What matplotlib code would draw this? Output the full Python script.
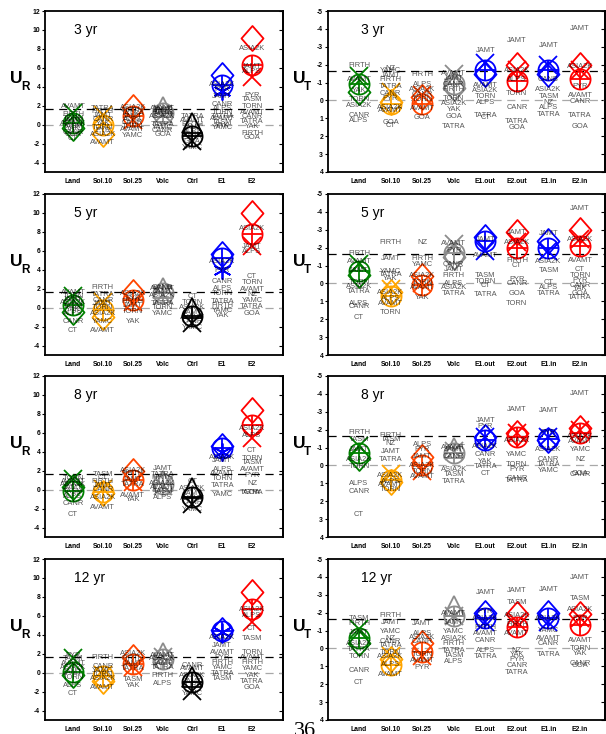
import numpy as np
import matplotlib
matplotlib.use('Agg')
import matplotlib.pyplot as plt
from matplotlib.path import Path

plt.rcParams['font.family'] = ['Liberation Sans', 'DejaVu Sans']

nan = np.nan

# ---------------- categories ----------------
periods = ['3 yr', '5 yr', '8 yr', '12 yr']
ur_cats = ['Land', 'Sol.10', 'Sol.25', 'Volc', 'Ctrl', 'E1', 'E2']
ut_cats = ['Land', 'Sol.10', 'Sol.25', 'Volc', 'E1.out', 'E2.out', 'E1.in', 'E2.in']
ur_colors = ['green', '#FFA500', '#FF4500', '#8c8c8c', 'black', '#0000FF', '#FF0000']
ut_colors = ['green', '#FFA500', '#FF4500', '#8c8c8c', '#0000FF', '#FF0000', '#0000FF', '#FF0000']

# ---------------- U_R marker values (rows = periods) ----------------
ur_diamond = [[-0.4, -1.0, 1.9, nan, nan, 5.2, 9.1],
              [-0.5, -1.0, 1.6, nan, nan, 5.7, 10.0],
              [0.3, -0.4, 2.0, nan, nan, 4.6, 8.4],
              [-0.2, -0.9, 1.6, nan, nan, 4.5, 8.5]]
ur_circle = [[0.2, 0.0, 0.9, 1.2, -1.2, 4.2, 6.3],
             [0.3, -0.2, 0.8, 1.5, -0.9, 5.2, 7.8],
             [-0.15, -0.3, 1.0, 0.6, -0.8, 4.4, 6.8],
             [0.1, -0.4, 0.9, 1.4, -1.0, 4.4, 6.7]]
ur_cross = [[1.2, 1.0, 0.5, 1.1, -1.7, 3.5, 5.0],
            [1.2, 0.6, 0.6, 1.3, -1.6, 4.0, 6.5],
            [1.1, 0.1, 0.8, 0.4, -1.5, 4.0, 5.5],
            [1.5, -0.2, 0.6, 1.6, -1.9, 4.3, 5.3]]
ur_triangle = [[nan, nan, nan, 1.9, 0.2, nan, nan],
               [nan, nan, nan, 2.1, 0.0, nan, nan],
               [nan, nan, nan, 0.9, 0.2, nan, nan],
               [nan, nan, nan, 2.1, -0.5, nan, nan]]

# ---------------- U_T marker values ----------------
ut_diamond = [[-0.5, 0.1, -0.2, -0.7, -1.5, -2.0, -1.5, -2.0],
              [-0.5, 0.5, -0.4, -1.5, -2.6, -2.9, -2.35, -3.0],
              [-0.4, 0.9, -0.5, nan, -1.6, -1.8, -1.4, -2.1],
              [-0.3, 0.6, -0.3, nan, -2.0, -1.9, -2.0, -1.9]]
ut_circle = [[-0.9, 0.2, 0.2, -0.9, -1.7, -1.1, -1.7, -1.2],
             [-0.7, 0.7, 0.1, -1.7, -2.4, -2.0, -2.0, -2.1],
             [-0.7, 0.8, 0.0, -0.7, -1.4, -1.6, -1.5, -1.8],
             [-0.6, 0.9, 0.2, -1.8, -1.7, -1.2, -1.7, -1.3]]
ut_cross = [[-1.35, -0.5, -0.3, -1.5, -2.1, -1.7, -2.0, -1.7],
            [-1.1, 0.3, 0.0, -2.2, -1.8, -2.3, -1.8, -2.5],
            [-1.1, 0.5, 0.3, -0.8, -1.6, -1.8, -1.6, -2.0],
            [-1.1, 0.4, 0.4, -1.8, -1.5, -1.5, -1.5, -1.7]]
ut_triangle = [[nan, nan, nan, nan, nan, nan, nan, nan],
               [nan, nan, nan, nan, nan, nan, nan, nan],
               [nan, nan, nan, -1.0, nan, nan, nan, nan],
               [nan, nan, nan, -2.35, nan, nan, nan, nan]]

# ---------------- site labels (per category: (site, value)) ----------------
ur3_labels = [
    [('AVAMT', 1.9), ('FIRTH', 1.05), ('TORN', 0.7), ('JAMT', 0.45), ('ASIA2K', 0.15), ('TASM', -0.15), ('YAK', -0.45), ('CANR', -0.8), ('GOA', -1.05), ('CT', -1.5)],
    [('TATRA', 1.75), ('FIRTH', 1.35), ('JAMT', 0.95), ('CANR', 0.55), ('YAK', 0.15), ('TORN', -0.25), ('PYR', -0.6), ('ASIA2K', -1.05), ('AVAMT', -1.85)],
    [('ASIA2K', 1.85), ('FIRTH', 1.5), ('TATRA', 1.15), ('JAMT', 0.85), ('ALPS', 0.5), ('CANR', 0.2), ('TORN', -0.15), ('AVAMT', -0.55), ('YAMC', -1.1)],
    [('AVAMT', 1.75), ('JAMT', 1.65), ('PYR', 1.5), ('FIRTH', 1.3), ('TASM', 1.1), ('ASIA2K', 0.9), ('TATRA', 0.0), ('YAMC', -0.3), ('CANR', -0.6), ('GOA', -1.05)],
    [('TATRA', 0.9), ('AVAMT', 0.4), ('FIRTH', 0.05), ('JAMT', -0.3), ('ALPS', -0.7), ('TORN', -1.0), ('CANR', -1.4), ('GOA', -1.8), ('YAMC', -2.4)],
    [('ASIA2K', 4.2), ('PYR', 3.7), ('JAMT', 3.0), ('CANR', 2.1), ('ALPS', 1.75), ('TORN', 1.3), ('TATRA', 0.9), ('AVAMT', 0.6), ('TASM', 0.2), ('YAK', -0.05), ('YAMC', -0.3)],
    [('ASIA2K', 8.0), ('JAMT', 6.15), ('ALPS', 5.6), ('PYR', 3.1), ('TASM', 2.65), ('TORN', 1.9), ('AVAMT', 1.3), ('CANR', 0.9), ('TATRA', 0.35), ('YAK', -0.2), ('FIRTH', -0.95), ('GOA', -1.4)],
]
ur5_labels = [
    [('AVAMT', 1.6), ('TORN', 1.2), ('JAMT', 0.9), ('ASIA2K', 0.5), ('TASM', 0.15), ('YAK', -0.2), ('ALPS', -0.6), ('CANR', -1.5), ('CT', -2.4)],
    [('FIRTH', 2.15), ('TATRA', 1.35), ('CANR', 0.75), ('JAMT', 0.4), ('TORN', 0.0), ('ASIA2K', -0.65), ('YAMC', -1.45), ('AVAMT', -2.45)],
    [('ASIA2K', 1.45), ('PYR', 1.0), ('FIRTH', 0.6), ('JAMT', 0.2), ('TORN', -0.4), ('YAK', -1.45)],
    [('CANR', 2.15), ('AVAMT', 2.05), ('JAMT', 1.7), ('ASIA2K', 1.3), ('TATRA', 0.4), ('TORN', 0.0), ('YAMC', -0.6)],
    [('CT', 1.2), ('TORN', 0.55), ('ASIA2K', 0.0), ('JAMT', -0.5), ('AVAMT', -1.0), ('CANR', -1.5), ('YAMC', -2.1)],
    [('ASIA2K', 4.9), ('PYR', 3.9), ('CANR', 2.75), ('ALPS', 2.0), ('TORN', 1.45), ('TATRA', 0.7), ('FIRTH', 0.2), ('YAMC', -0.3), ('YAK', -0.85)],
    [('ASIA2K', 8.35), ('JAMT', 6.5), ('ALPS', 5.9), ('CT', 3.3), ('TORN', 2.7), ('AVAMT', 1.9), ('NZ', 1.4), ('YAMC', 0.75), ('TATRA', 0.1), ('GOA', -0.65)],
]
ur8_labels = [
    [('TORN', 1.2), ('AVAMT', 0.9), ('ASIA2K', 0.5), ('JAMT', 0.2), ('TASM', -0.2), ('ALPS', -0.7), ('CANR', -1.5), ('CT', -2.6)],
    [('TASM', 1.6), ('CT', 1.3), ('FIRTH', 0.9), ('JAMT', 0.4), ('CANR', 0.0), ('ASIA2K', -0.8), ('AVAMT', -1.85)],
    [('ASIA2K', 2.05), ('FIRTH', 1.7), ('JAMT', 1.1), ('TATRA', 0.5), ('AVAMT', -0.6), ('YAK', -1.05)],
    [('JAMT', 2.2), ('TATRA', 1.6), ('FIRTH', 1.3), ('ASIA2K', 0.65), ('AVAMT', 0.2), ('TASM', -0.15), ('ALPS', -0.8)],
    [('CT', 0.9), ('ASIA2K', 0.1), ('JAMT', -0.4), ('AVAMT', -0.9), ('CANR', -1.4), ('YAMC', -2.1)],
    [('ASIA2K', 3.35), ('JAMT', 3.1), ('ALPS', 2.15), ('AVAMT', 1.7), ('TORN', 1.2), ('TATRA', 0.45), ('YAMC', -0.55)],
    [('ASIA2K', 6.45), ('ALPS', 5.7), ('CT', 4.15), ('TORN', 3.3), ('TASM', 2.85), ('AVAMT', 2.1), ('PYR', 1.5), ('NZ', 0.65), ('TATRA', -0.35), ('GOA', -0.35)],
]
ur12_labels = [
    [('PYR', 1.8), ('TASM', 1.45), ('AVAMT', 1.0), ('ASIA2K', 0.5), ('JAMT', 0.0), ('TORN', -0.5), ('ALPS', -1.4), ('CT', -2.2)],
    [('FIRTH', 1.56), ('CANR', 0.64), ('YAMC', 0.2), ('TORN', -0.2), ('ASIA2K', -0.67), ('AVAMT', -1.56)],
    [('ASIA2K', 2.0), ('FIRTH', 1.5), ('JAMT', 1.0), ('TATRA', 0.4), ('TASM', -0.75), ('YAK', -1.4)],
    [('AVAMT', 1.8), ('ASIA2K', 1.45), ('JAMT', 1.0), ('TATRA', 0.57), ('FIRTH', -0.32), ('ALPS', -1.13)],
    [('CANR', 0.75), ('AVAMT', 0.4), ('ASIA2K', -0.32), ('JAMT', -0.9), ('TORN', -1.4), ('YAMC', -2.2)],
    [('ASIA2K', 3.7), ('JAMT', 2.87), ('AVAMT', 2.16), ('PYR', 1.63), ('FIRTH', 1.1), ('YAMC', 0.5), ('TATRA', -0.14), ('TASM', -0.67)],
    [('ASIA2K', 6.67), ('ALPS', 6.06), ('CT', 4.65), ('TASM', 3.58), ('TORN', 2.16), ('AVAMT', 1.63), ('FIRTH', 1.1), ('YAMC', 0.39), ('YAK', -0.32), ('TATRA', -0.92), ('GOA', -1.56)],
]

ut3_labels = [
    [('FIRTH', -1.93), ('AVAMT', -1.15), ('YAK', -0.56), ('TORN', -0.04), ('ASIA2K', 0.3), ('CANR', 0.85), ('ALPS', 1.1)],
    [('NZ', -1.8), ('YAMC', -1.7), ('JAMT', -1.4), ('FIRTH', -1.15), ('TATRA', -0.78), ('CANR', -0.4), ('PYR', -0.13), ('ASIA2K', 0.4), ('AVAMT', 0.55), ('GOA', 1.25), ('CT', 1.4)],
    [('FIRTH', -1.43), ('ALPS', -0.87), ('ASIA2K', -0.6), ('CANR', -0.32), ('TORN', -0.05), ('AVAMT', 0.43), ('GOA', 0.98)],
    [('AVAMT', -1.5), ('JAMT', -1.25), ('CANR', -0.9), ('FIRTH', -0.6), ('TORN', -0.13), ('ASIA2K', 0.19), ('YAK', 0.52), ('GOA', 0.9), ('TATRA', 1.45)],
    [('JAMT', -2.79), ('AVAMT', -0.82), ('ASIA2K', -0.56), ('TORN', -0.22), ('ALPS', 0.11), ('TATRA', 0.85), ('CT', 0.98)],
    [('JAMT', -3.33), ('ASIA2K', -1.67), ('ALPS', -1.15), ('TORN', -0.4), ('CANR', 0.37), ('TATRA', 1.17), ('GOA', 1.5)],
    [('JAMT', -3.07), ('CANB', -1.15), ('ASIA2K', -0.6), ('TASM', -0.22), ('NZ', 0.1), ('ALPS', 0.39), ('TATRA', 0.76)],
    [('JAMT', -4.0), ('ASIA2K', -1.9), ('PYR', -0.78), ('AVAMT', -0.26), ('CANR', 0.06), ('TATRA', 0.85), ('GOA', 1.45)],
]
ut5_labels = [
    [('FIRTH', -1.67), ('AVAMT', -1.2), ('JAMT', -0.73), ('TORN', -0.08), ('ASIA2K', 0.17), ('TATRA', 0.43), ('ALPS', 1.14), ('CANR', 1.3), ('CT', 1.9)],
    [('FIRTH', -2.27), ('JAMT', -1.39), ('YAMC', -0.64), ('TATRA', -0.49), ('YAK', -0.26), ('ASIA2K', 0.49), ('ALPS', 0.86), ('AVAMT', 1.14), ('TORN', 1.61)],
    [('NZ', -2.29), ('FIRTH', -1.39), ('YAMC', -1.07), ('ASIA2K', -0.45), ('TORN', -0.08), ('AVAMT', 0.2), ('YAK', 0.8)],
    [('AVAMT', -2.23), ('PYR', -1.86), ('CANR', -1.07), ('JAMT', -0.77), ('FIRTH', -0.45), ('ALPS', 0.0), ('ASIA2K', 0.24), ('TATRA', 0.58)],
    [('JAMT', -2.46), ('AVAMT', -1.58), ('TASM', -0.45), ('TORN', -0.13), ('CT', 0.11), ('TATRA', 0.62)],
    [('JAMT', -2.83), ('ASIA2K', -2.27), ('FIRTH', -1.26), ('CT', -1.01), ('PYR', -0.21), ('CANR', 0.02), ('GOA', 0.58), ('TORN', 1.14)],
    [('JAMT', -2.8), ('ASIA2K', -1.2), ('TASM', -0.73), ('CT', -0.08), ('ALPS', 0.2), ('TATRA', 0.54)],
    [('JAMT', -4.17), ('ASIA2K', -2.46), ('AVAMT', -1.26), ('CT', -0.77), ('TORN', -0.45), ('PYR', -0.17), ('CANR', 0.11), ('YAK', 0.26), ('GOA', 0.58), ('TATRA', 0.81)],
]
ut8_labels = [
    [('FIRTH', -1.85), ('TASM', -1.44), ('JAMT', -0.9), ('ASIA2K', -0.35), ('TORN', 0.06), ('ALPS', 1.03), ('CANR', 1.45), ('CT', 2.76)],
    [('FIRTH', -1.66), ('TASM', -1.44), ('NZ', -1.25), ('JAMT', -0.78), ('TATRA', -0.35), ('ASIA2K', 0.58), ('ALPS', 0.9), ('AVAMT', 1.08), ('TORN', 1.36)],
    [('ALPS', -1.16), ('PYR', -0.91), ('JAMT', -0.5), ('ASIA2K', 0.0), ('TORN', 0.35), ('AVAMT', 0.6)],
    [('AVAMT', -1.0), ('JAMT', -0.88), ('CANR', -0.5), ('ASIA2K', 0.24), ('TASM', 0.52), ('TATRA', 0.9)],
    [('JAMT', -2.52), ('PYR', -2.15), ('ASIA2K', -1.06), ('CANR', -0.6), ('YAK', -0.22), ('TATRA', 0.06), ('CT', 0.47)],
    [('JAMT', -3.12), ('ASIA2K', -1.38), ('YAMC', -0.6), ('TORN', -0.04), ('PYR', 0.24), ('CANR', 0.71), ('TATRA', 0.86)],
    [('JAMT', -3.08), ('PYR', -1.85), ('ASIA2K', -0.88), ('CANR', -0.35), ('TATRA', -0.04), ('YAMC', 0.3)],
    [('JAMT', -4.0), ('ASIA2K', -1.62), ('AVAMT', -1.34), ('YAMC', -0.91), ('NZ', -0.35), ('GOA', 0.47), ('CANR', 0.52)],
]
ut12_labels = [
    [('TASM', -1.66), ('FIRTH', -1.38), ('JAMT', -0.9), ('ASIA2K', -0.25), ('TATRA', 0.04), ('TORN', 0.47), ('CANR', 1.23), ('CT', 1.89)],
    [('FIRTH', -1.85), ('JAMT', -1.47), ('YAMC', -0.94), ('NZ', -0.58), ('CANR', -0.38), ('TATRA', -0.19), ('TORN', 0.23), ('ASIA2K', 0.47), ('ALPS', 0.89), ('AVAMT', 1.45)],
    [('JAMT', -1.42), ('ALPS', -0.85), ('ASIA2K', -0.62), ('CANR', -0.38), ('TORN', 0.32), ('AVAMT', 0.66), ('PYR', 1.04)],
    [('AVAMT', -1.94), ('JAMT', -1.47), ('YAMC', -0.94), ('ASIA2K', -0.53), ('FIRTH', -0.25), ('TATRA', 0.09), ('TASM', 0.42), ('ALPS', 0.75)],
    [('JAMT', -3.13), ('PYR', -2.04), ('ASIA2K', -1.66), ('FIRTH', -1.19), ('AVAMT', -0.81), ('CANR', -0.43), ('ALPS', 0.13), ('TATRA', 0.47)],
    [('JAMT', -3.26), ('TASM', -2.55), ('ASIA2K', -1.85), ('FIRTH', -1.34), ('AVAMT', -0.81), ('NZ', 0.09), ('YAK', 0.36), ('PYR', 0.64), ('CANR', 0.98), ('TATRA', 1.36)],
    [('JAMT', -3.3), ('ASIA2K', -1.66), ('YAMC', -1.0), ('AVAMT', -0.58), ('CANR', -0.25), ('TATRA', 0.32)],
    [('JAMT', -3.98), ('TASM', -2.79), ('ASIA2K', -2.17), ('PYR', -1.66), ('AVAMT', -0.43), ('TORN', -0.02), ('YAK', 0.28), ('CANR', 0.85), ('GOA', 0.98)],
]
ur_labels = [ur3_labels, ur5_labels, ur8_labels, ur12_labels]
ut_labels = [ut3_labels, ut5_labels, ut8_labels, ut12_labels]

ur_ticks = [-4, -2, 0, 2, 4, 6, 8, 10, 12]
ut_ticks = [-5, -4, -3, -2, -1, 0, 1, 2, 3, 4]
ur_ref = 1.65
ut_ref = -1.65

# ---------------- layout ----------------
W, H = 606, 734
fig = plt.figure(figsize=(W / 100, H / 100), dpi=100)
row_tops = [11, 194, 376, 559]
PH = 161

diamond_path = Path([(0, 1), (0.88, 0), (0, -1), (-0.88, 0), (0, 1)],
                    [Path.MOVETO, Path.LINETO, Path.LINETO, Path.LINETO, Path.CLOSEPOLY])
asterisk = (6, 2, 0)


def make_axes(left, top, width):
    return fig.add_axes([left / W, 1 - (top + PH) / H, width / W, PH / H])


def draw_panel(ax, cats, colors, dvals, ovals, xvals, tvals, labels, ticks, ylim,
               xlim, ref, period, crossmarks):
    x = np.arange(1, len(cats) + 1)
    ax.set_xlim(*xlim)
    ax.set_ylim(*ylim)
    ax.axhline(0, color='#a8a8a8', lw=0.9, ls=(0, (6.5, 4.5)), zorder=1)
    ax.axhline(ref, color='black', lw=0.9, ls=(0, (6.5, 4.5)), zorder=1)
    lw = 1.3
    for i, c in enumerate(colors):
        kw = dict(color=c, mfc='none', mec=c, mew=lw, ls='none', zorder=3)
        ax.plot(x[i], dvals[i], marker=diamond_path, ms=18, **kw)
        ax.plot(x[i], ovals[i], marker='o', ms=14.5, **kw)
        ax.plot(x[i], ovals[i], marker='+', ms=14.5, **kw)
        ax.plot(x[i], xvals[i], marker=crossmarks[i], ms=13, **kw)
        ax.plot(x[i], tvals[i], marker='^', ms=15, **kw)
    for i, labs in enumerate(labels):
        for name, v in labs:
            ax.text(x[i], v, name, ha='center', va='center', fontsize=5.4,
                    color='black', alpha=0.66, zorder=4)
    ax.set_xticks(x)
    ax.set_xticklabels(cats, fontsize=4.9, fontweight='bold')
    ax.tick_params(axis='x', length=0, pad=4)
    ax.set_yticks(ticks)
    ax.set_yticklabels([str(t) for t in ticks], fontsize=4.9, fontweight='bold')
    ax.tick_params(axis='y', direction='out', length=2.5, width=0.8, pad=1)
    sec = ax.secondary_yaxis('right')
    sec.set_yticks(ticks)
    sec.tick_params(direction='in', length=3, width=0.8, labelright=False)
    sec.spines['right'].set_linewidth(1.3)
    for s in ax.spines.values():
        s.set_linewidth(1.3)
    ax.text(0.12, 0.88, period, transform=ax.transAxes, fontsize=10,
            ha='left', va='center')


for r in range(4):
    top = row_tops[r]
    axl = make_axes(45, top, 238)
    draw_panel(axl, ur_cats, ur_colors, ur_diamond[r], ur_circle[r], ur_cross[r],
               ur_triangle[r], ur_labels[r], ur_ticks, (-5, 12), (0.06, 8.04),
               ur_ref, periods[r], ['x', 'x', 'x', 'x', 'x', asterisk, 'x'])
    axr = make_axes(328, top, 277)
    draw_panel(axr, ut_cats, ut_colors, ut_diamond[r], ut_circle[r], ut_cross[r],
               ut_triangle[r], ut_labels[r], ut_ticks, (4, -5), (0.02, 8.79),
               ut_ref, periods[r], ['x'] * 8)
    # y labels: U with subscript
    for xu, sub in ((10, 'R'), (293, 'T')):
        fig.text(xu / W, 1 - (top + 72) / H, 'U', fontsize=12.5, fontweight='bold',
                 ha='left', va='baseline')
        fig.text((xu + 11) / W, 1 - (top + 79) / H, sub, fontsize=8.5,
                 fontweight='bold', ha='left', va='baseline')

fig.text(305 / W, 1 - 736 / H, '36', fontsize=16, family='Liberation Serif',
         ha='center', va='baseline')

fig.savefig('out.png', dpi=100)
